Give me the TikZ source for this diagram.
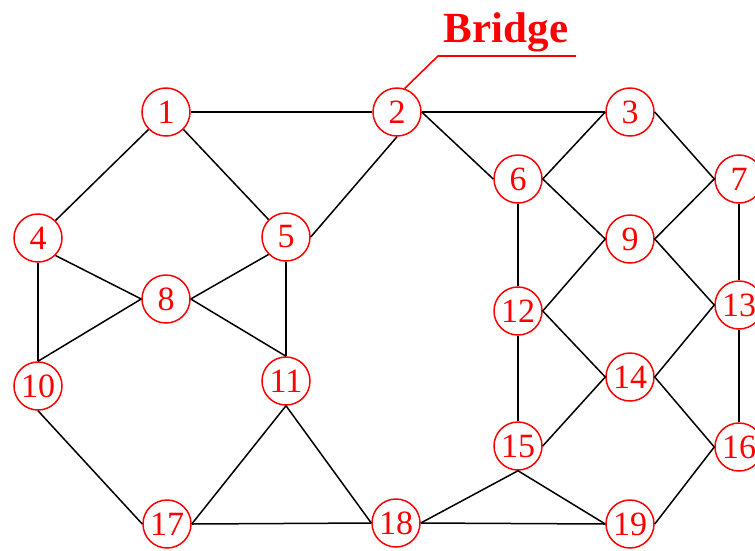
\documentclass[tikz,border=0pt]{standalone}
\usepackage{fontspec}
\setmainfont{Liberation Serif}
\begin{document}
\begin{tikzpicture}[x=1pt,y=-1pt,
  vtx/.style={circle,draw=red,line width=1.5pt,fill=white,text=red,minimum size=48pt,inner sep=0pt,font=\fontsize{34}{34}\selectfont},
  edge/.style={draw=black,line width=1.5pt},
  lead/.style={draw=red,line width=1.6pt}]
\clip (0,0) rectangle (755,550);
\fill[white] (0,0) rectangle (755,550);
\node[vtx] (n1) at (166,112) {1};
\node[vtx] (n2) at (397,112) {2};
\node[vtx] (n3) at (630,112) {3};
\node[vtx] (n4) at (38,238) {4};
\node[vtx] (n5) at (286,237) {5};
\node[vtx] (n6) at (518,179) {6};
\node[vtx] (n7) at (739,179) {7};
\node[vtx] (n8) at (166,299) {8};
\node[vtx] (n9) at (630,239) {9};
\node[vtx] (n10) at (38,386) {10};
\node[vtx] (n11) at (286,381) {11};
\node[vtx] (n12) at (518,311) {12};
\node[vtx] (n13) at (739,305) {13};
\node[vtx] (n14) at (630,377) {14};
\node[vtx] (n15) at (518,446) {15};
\node[vtx] (n16) at (739,447) {16};
\node[vtx] (n17) at (167,524) {17};
\node[vtx] (n18) at (396,523) {18};
\node[vtx] (n19) at (630,524) {19};
\node[text=red,font=\bfseries\fontsize{43}{43}\selectfont,anchor=base] (br) at (506,42) {Bridge};
\coordinate (bk) at (438,56);
\coordinate (be) at (576,56);
\draw[lead] (n2.72) -- (bk) -- (be);
\draw[edge] (n1.east) -- (n2.west);
\draw[edge] (n2.east) -- (n3.west);
\draw[edge] (n1.south west) -- (n4.north east);
\draw[edge] (n1.south east) -- (n5.north west);
\draw[edge] (n2.south) -- (n5.east);
\draw[edge] (n2.east) -- (n6.west);
\draw[edge] (n3.west) -- (n6.east);
\draw[edge] (n3.east) -- (n7.west);
\draw[edge] (n6.east) -- (n9.west);
\draw[edge] (n6.south) -- (n12.north);
\draw[edge] (n9.east) -- (n7.west);
\draw[edge] (n9.west) -- (n12.east);
\draw[edge] (n9.east) -- (n13.west);
\draw[edge] (n7.south) -- (n13.north);
\draw[edge] (n12.east) -- (n14.west);
\draw[edge] (n12.south) -- (n15.north);
\draw[edge] (n14.west) -- (n15.east);
\draw[edge] (n14.east) -- (n13.west);
\draw[edge] (n14.east) -- (n16.west);
\draw[edge] (n13.south) -- (n16.north);
\draw[edge] (n19.east) -- (n16.west);
\draw[edge] (n15.south) -- (n18.east);
\draw[edge] (n15.south) -- (n19.west);
\draw[edge] (n18.east) -- (n19.west);
\draw[edge] (n17.east) -- (n18.west);
\draw[edge] (n11.south) -- (n17.east);
\draw[edge] (n11.south) -- (n18.west);
\draw[edge] (n10.south) -- (n17.west);
\draw[edge] (n4.south) -- (n10.north);
\draw[edge] (n8.west) -- (n10.north);
\draw[edge] (n4.south east) -- (n8.west);
\draw[edge] (n5.south west) -- (n8.east);
\draw[edge] (n8.east) -- (n11.north);
\draw[edge] (n5.south) -- (n11.north);
\end{tikzpicture}
\end{document}
